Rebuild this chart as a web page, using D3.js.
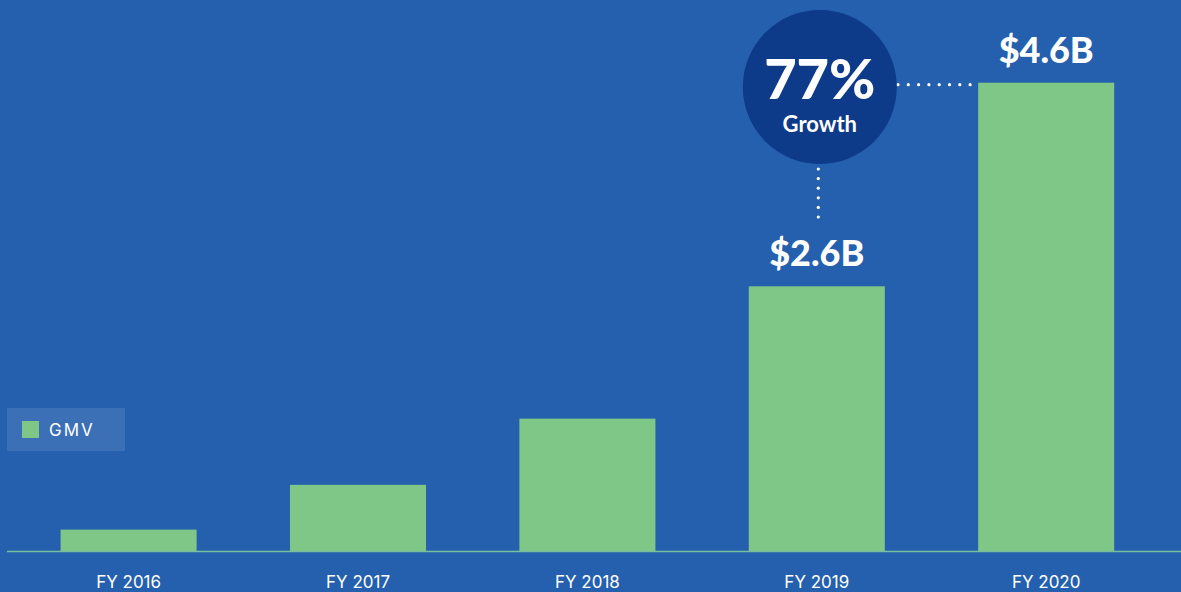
<!DOCTYPE html>
<html>
<head>
<meta charset="utf-8">
<script src="https://cdn.jsdelivr.net/npm/d3@7"></script>
<style>
html,body{margin:0;padding:0;background:#2560ae;}
svg{display:block;}
</style>
</head>
<body>
<svg id="chart" width="1181" height="592"></svg>
<script>
const categories = ["FY 2016", "FY 2017", "FY 2018", "FY 2019", "FY 2020"];
const gmv = [0.21, 0.65, 1.3, 2.6, 4.6];
const valueLabels = ["", "", "", "$2.6B", "$4.6B"];
const legendLabels = ["GMV"];
const growthText = "77%";
const growthSub = "Growth";

const W = 1181, H = 592;
const svg = d3.select("#chart");
svg.append("rect").attr("width", W).attr("height", H).attr("fill", "#2560ae");

const baseY = 551;
const x = d3.scaleBand().domain(categories).range([60.6, 1114.2]).paddingInner(0.407).paddingOuter(0);
const y = d3.scaleLinear().domain([0, 4.6]).range([baseY, 82.7]);

// bars
svg.append("g").selectAll("rect").data(gmv).join("rect")
  .attr("x", (d, i) => x(categories[i]))
  .attr("y", d => y(d))
  .attr("width", x.bandwidth())
  .attr("height", d => y(0) - y(d))
  .attr("fill", "#7fc787");

// baseline
svg.append("line").attr("x1", 7).attr("x2", W).attr("y1", baseY + 0.5).attr("y2", baseY + 0.5)
  .attr("stroke", "#78bfa0").attr("stroke-width", 1.6);

// x axis labels
const xAxis = d3.axisBottom(x).tickSize(0).tickPadding(0);
const gx = svg.append("g").attr("transform", `translate(0,${baseY})`).call(xAxis);
gx.select(".domain").remove();
gx.selectAll("text").attr("y", 37).attr("dy", 0)
  .attr("fill", "#ffffff").attr("font-family", "Inter, 'Noto Sans', sans-serif")
  .attr("font-size", 17).attr("font-weight", 400);

// value labels
svg.append("g").selectAll("text").data(gmv).join("text")
  .attr("x", (d, i) => x(categories[i]) + x.bandwidth() / 2)
  .attr("y", d => y(d) - 20)
  .attr("text-anchor", "middle")
  .attr("fill", "#ffffff")
  .attr("font-family", "Lato, 'Open Sans', sans-serif")
  .attr("font-weight", 900)
  .attr("font-size", 36)
  .text((d, i) => valueLabels[i]);

// growth bubble
const cx = x("FY 2019") + x.bandwidth() / 2 + 3, cy = 87, r = 77;
// dotted connectors
const hDots = d3.range(0, 8).map(i => 898 + i * 10.3);
svg.append("g").selectAll("circle").data(hDots).join("circle")
  .attr("cx", d => d).attr("cy", y(4.6) + 2).attr("r", 1.6).attr("fill", "#ffffff");
const vDots = d3.range(0, 6).map(i => cy + r + 5 + i * 9.6);
svg.append("g").selectAll("circle").data(vDots).join("circle")
  .attr("cx", cx - 1.5).attr("cy", d => d).attr("r", 1.6).attr("fill", "#ffffff");

svg.append("circle").attr("cx", cx).attr("cy", cy).attr("r", r).attr("fill", "#0e3a8a");
svg.append("text").attr("x", cx).attr("y", cy + 12).attr("text-anchor", "middle")
  .attr("fill", "#ffffff").attr("font-family", "Lato, 'Open Sans', sans-serif")
  .attr("font-weight", 900).attr("font-size", 56).text(growthText);
svg.append("text").attr("x", cx).attr("y", cy + 45).attr("text-anchor", "middle")
  .attr("fill", "#ffffff").attr("font-family", "Lato, 'Open Sans', sans-serif")
  .attr("font-weight", 700).attr("font-size", 22).text(growthSub);

// legend
const lg = svg.append("g");
lg.append("rect").attr("x", 7).attr("y", 408).attr("width", 118).attr("height", 43)
  .attr("fill", "#ffffff").attr("fill-opacity", 0.1);
lg.append("rect").attr("x", 22).attr("y", 421).attr("width", 17).attr("height", 17).attr("fill", "#7fc787");
lg.append("text").attr("x", 49).attr("y", 436).attr("fill", "#ffffff")
  .attr("font-family", "Inter, 'Noto Sans', sans-serif").attr("font-size", 17)
  .attr("letter-spacing", 2).text(legendLabels[0]);
</script>
</body>
</html>
